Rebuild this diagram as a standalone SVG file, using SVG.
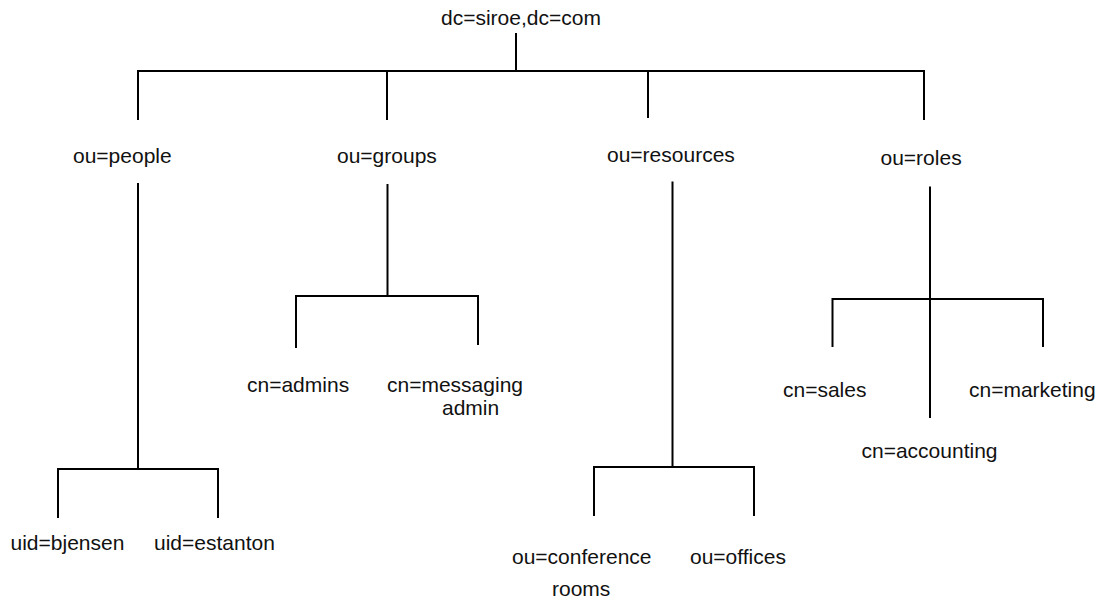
<svg xmlns="http://www.w3.org/2000/svg" width="1104" height="598" viewBox="0 0 1104 598">
<style>
.t{font-family:"Liberation Sans",Arial,sans-serif;font-size:21px;fill:#111;}
.c{fill:none;stroke:#000;stroke-width:2;}
</style>
<rect width="1104" height="598" fill="#fff"/>
<g id="connectors">
<path class="c" d="M516 33V71"/>
<path class="c" d="M138 120V71H924V120M387 71V120M648 71V118"/>
<path class="c" d="M138 183V469"/>
<path class="c" d="M58 518V469H218V518"/>
<path class="c" d="M387.5 184V296"/>
<path class="c" d="M296 348V296H478V345"/>
<path class="c" d="M672.5 181.5V467"/>
<path class="c" d="M594 516V467H754V516"/>
<path class="c" d="M930 186.5V418"/>
<path class="c" d="M832.5 347V299H1043V347"/>
</g>
<g id="root"><text class="t" x="441" y="25">dc=siroe,dc=com</text></g>
<g id="people"><text class="t" x="73" y="163">ou=people</text></g>
<g id="groups"><text class="t" x="337" y="163">ou=groups</text></g>
<g id="resources"><text class="t" x="607" y="161.5">ou=resources</text></g>
<g id="roles"><text class="t" x="880.5" y="165">ou=roles</text></g>
<g id="bjensen"><text class="t" x="10.5" y="550">uid=bjensen</text></g>
<g id="estanton"><text class="t" x="154" y="550">uid=estanton</text></g>
<g id="admins"><text class="t" x="247" y="392">cn=admins</text></g>
<g id="messaging"><text class="t" x="387" y="392">cn=messaging</text><text class="t" x="442" y="415">admin</text></g>
<g id="conference"><text class="t" x="512" y="564">ou=conference</text><text class="t" x="552" y="595.5">rooms</text></g>
<g id="offices"><text class="t" x="690" y="564">ou=offices</text></g>
<g id="sales"><text class="t" x="783" y="397">cn=sales</text></g>
<g id="accounting"><text class="t" x="861.5" y="458">cn=accounting</text></g>
<g id="marketing"><text class="t" x="969" y="397">cn=marketing</text></g>
</svg>
